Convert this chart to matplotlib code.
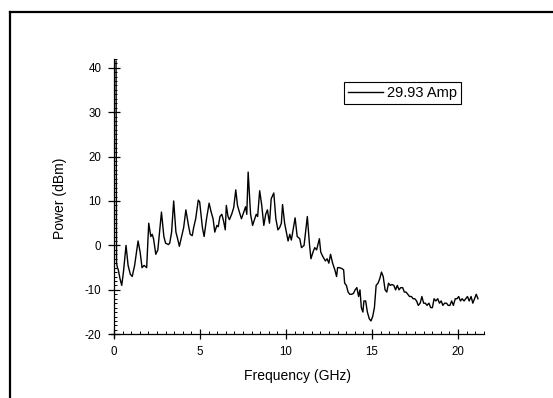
import matplotlib
matplotlib.use("Agg")
import matplotlib.pyplot as plt
from matplotlib.lines import Line2D
from matplotlib.ticker import MultipleLocator

plt.rcParams['font.family'] = ['Liberation Sans', 'DejaVu Sans']
plt.rcParams['axes.unicode_minus'] = False

freq_ghz = [0.12, 0.15, 0.2, 0.25, 0.35, 0.45, 0.55, 0.7, 0.82, 0.95, 1.06, 1.2, 1.4, 1.52, 1.63, 1.75, 1.9,
            2.02, 2.14, 2.22, 2.3, 2.43, 2.55, 2.76, 2.9, 3.0, 3.16, 3.24, 3.35, 3.47, 3.6, 3.7, 3.8, 3.9,
            4.05, 4.18, 4.33, 4.43, 4.55, 4.63, 4.75, 4.9, 4.98, 5.14, 5.24, 5.38, 5.53, 5.65, 5.76, 5.86,
            5.98, 6.06, 6.16, 6.27, 6.37, 6.47, 6.53, 6.63, 6.71, 6.84, 6.96, 7.08, 7.18, 7.29, 7.41, 7.5,
            7.65, 7.72, 7.8, 7.94, 8.06, 8.14, 8.27, 8.35, 8.47, 8.59, 8.71, 8.82, 8.92, 9.04, 9.14, 9.29,
            9.41, 9.53, 9.63, 9.73, 9.8, 9.92, 10.02, 10.12, 10.22, 10.31, 10.41, 10.53, 10.65, 10.8, 10.9,
            11.05, 11.24, 11.37, 11.45, 11.57, 11.67, 11.78, 11.94, 12.02, 12.14, 12.29, 12.39, 12.49, 12.59,
            12.71, 12.84, 12.94, 13.0, 13.1, 13.24, 13.35, 13.41, 13.51, 13.61, 13.71, 13.82, 13.92, 14.02,
            14.12, 14.22, 14.3, 14.38, 14.47, 14.53, 14.63, 14.73, 14.84, 14.94, 15.04, 15.14, 15.24, 15.35,
            15.45, 15.55, 15.65, 15.76, 15.86, 15.96, 16.06, 16.16, 16.27, 16.37, 16.47, 16.57, 16.67, 16.78,
            16.88, 16.98, 17.08, 17.18, 17.29, 17.39, 17.49, 17.59, 17.69, 17.8, 17.9, 18.0, 18.1, 18.2,
            18.31, 18.41, 18.51, 18.61, 18.71, 18.82, 18.92, 19.02, 19.12, 19.22, 19.33, 19.43, 19.53, 19.63,
            19.73, 19.84, 19.94, 20.04, 20.14, 20.24, 20.35, 20.45, 20.55, 20.65, 20.76, 20.86, 20.96, 21.06,
            21.16]

power_dbm = [41.5, -4.0, -5.0, -5.5, -7.5, -9.0, -6.0, 0.0, -4.5, -6.5, -7.0, -4.5, 1.0, -1.5, -5.0, -4.5, -5.0,
             5.0, 2.0, 2.5, 1.5, -2.0, -1.0, 7.5, 2.0, 0.5, 0.2, 0.5, 3.0, 10.0, 3.0, 1.5, -0.2, 1.5,
             4.0, 8.0, 4.5, 2.5, 2.2, 4.0, 6.0, 10.2, 9.8, 4.0, 2.0, 6.0, 9.5, 7.5, 6.0, 3.0,
             4.5, 4.2, 6.5, 7.0, 5.5, 3.5, 9.0, 6.5, 5.8, 7.0, 8.5, 12.5, 9.0, 7.5, 6.0, 7.0,
             8.7, 7.0, 16.5, 7.0, 4.5, 5.5, 7.0, 6.5, 12.3, 9.0, 4.5, 7.0, 8.0, 5.0, 10.5, 11.8,
             6.0, 3.5, 4.0, 5.0, 9.2, 5.0, 3.0, 1.0, 2.5, 1.2, 3.5, 6.2, 2.0, 1.5, -0.5,
             0.0, 6.5, 0.0, -3.0, -1.5, -0.5, -1.0, 1.5, -1.5, -2.5, -3.5, -3.0, -4.0, -2.0,
             -4.0, -5.5, -7.0, -5.0, -5.0, -5.2, -5.5, -8.5, -9.0, -10.5, -11.0, -11.0, -10.8, -10.0,
             -9.5, -11.5, -10.0, -14.0, -15.0, -12.5, -12.5, -15.0, -16.5, -17.0, -16.0, -14.0, -9.0, -8.5,
             -7.5, -6.0, -7.0, -10.0, -10.5, -8.5, -9.0, -8.8, -9.0, -10.0, -9.0, -10.0, -9.5, -9.5,
             -10.5, -10.5, -11.0, -11.5, -11.5, -12.0, -12.0, -12.5, -13.5, -13.0, -11.5, -13.0, -13.0, -13.5,
             -13.0, -14.0, -14.0, -12.0, -12.5, -12.0, -13.0, -12.5, -13.5, -13.0, -13.0, -13.5, -13.5, -12.5,
             -13.5, -12.0, -12.0, -11.5, -12.5, -12.0, -12.5, -12.0, -11.5, -12.5, -11.5, -13.0, -12.0, -11.0,
             -12.0]

x_ticks = [0, 5, 10, 15, 20]
y_ticks = [-20, -10, 0, 10, 20, 30, 40]
legend_label = "29.93 Amp"

W, H = 553, 398
fig = plt.figure(figsize=(W / 100, H / 100), dpi=100)
ax = fig.add_axes([0.1999, 0.1523, 0.675, 0.700])

ax.plot(freq_ghz, power_dbm, color='black', lw=1.0, label=legend_label)

ax.set_xlim(-0.2, 21.5)
ax.set_ylim(-20.7, 42)
ax.spines['top'].set_visible(False)
ax.spines['right'].set_visible(False)
ax.spines['left'].set_position(('data', 0))
ax.spines['bottom'].set_position(('data', -20))
for s in ('left', 'bottom'):
    ax.spines[s].set_linewidth(0.9)

ax.set_xticks(x_ticks)
ax.set_yticks(y_ticks)
ax.xaxis.set_minor_locator(MultipleLocator(0.5))
ax.yaxis.set_minor_locator(MultipleLocator(1))
ax.tick_params(axis='y', which='major', direction='inout', length=8, width=0.9, labelsize=8.3, pad=5)
ax.tick_params(axis='x', which='major', direction='inout', length=7, width=0.9, labelsize=8.3, pad=5)
ax.tick_params(which='minor', direction='in', length=2.5, width=0.7)

ax.set_xlabel('Frequency (GHz)', fontsize=10)
ax.set_ylabel('Power (dBm)', fontsize=10)
ax.yaxis.set_label_coords(-0.117, 0.5)
ax.xaxis.set_label_coords(0.5, -0.113)

leg = ax.legend(loc='upper left', bbox_to_anchor=(344 / W, 1 - 82.3 / H),
                bbox_transform=fig.transFigure, borderaxespad=0, fontsize=10.5,
                handlelength=2.4, handletextpad=0.3, borderpad=0.25,
                fancybox=False, shadow=False, framealpha=1)
leg.get_frame().set_edgecolor('black')
leg.get_frame().set_linewidth(0.8)

# page frame (top and left edges)
fig.add_artist(Line2D([10 / W, 1.0], [1 - 12 / H, 1 - 12 / H], transform=fig.transFigure,
                      color='black', lw=1.6))
fig.add_artist(Line2D([10 / W, 10 / W], [1 - 12 / H, 0.0], transform=fig.transFigure,
                      color='black', lw=1.6))

fig.savefig('out.png', dpi=100)
